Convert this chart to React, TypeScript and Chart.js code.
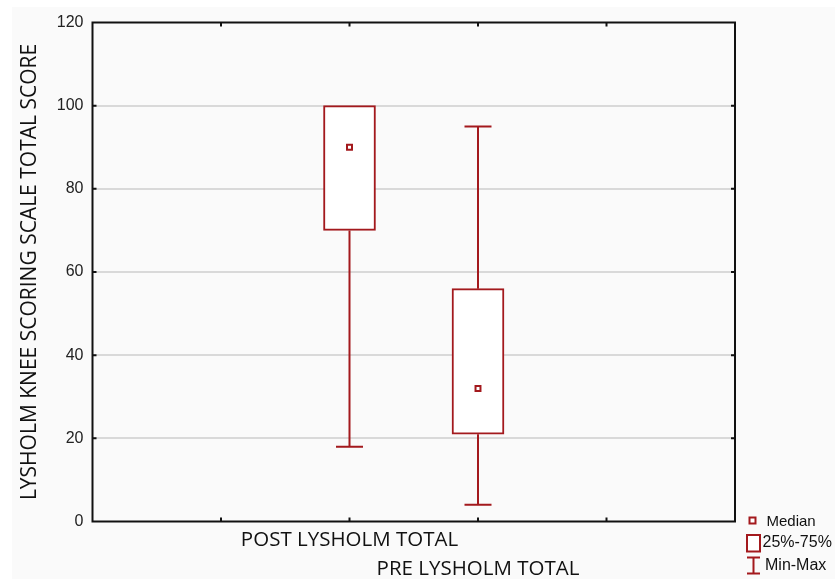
import React, { useEffect, useRef } from "react";
import { Chart, registerables } from "chart.js";

Chart.register(...registerables);

const categories = ["POST LYSHOLM TOTAL", "PRE LYSHOLM TOTAL"];
const minVals = [18, 4];
const q1Vals = [70, 21];
const medianVals = [90, 32];
const q3Vals = [100, 56];
const maxVals = [100, 95];
const yTicks = [0, 20, 40, 60, 80, 100, 120];
const legendLabels = ["Median", "25%-75%", "Min-Max"];

const RED = "#a3191d";
const OFFSET = 2; // category slots before the first box

export default function App() {
  const ref = useRef<HTMLCanvasElement>(null);
  useEffect(() => {
    const canvas = ref.current!;
    const n = categories.length;
    const total = n + OFFSET * 2;
    const labels: any[] = [];
    const boxData: any[] = [];
    const medData: any[] = [];
    for (let i = 0; i < total; i++) {
      const k = i - OFFSET;
      if (k >= 0 && k < n) {
        labels.push(k % 2 === 0 ? [categories[k], ""] : ["", categories[k]]);
        boxData.push([q1Vals[k], q3Vals[k]]);
        medData.push(medianVals[k]);
      } else {
        labels.push("");
        boxData.push(null);
        medData.push(null);
      }
    }

    const framePlugin = {
      id: "frame",
      beforeDatasetsDraw(chart: any) {
        const ctx = chart.ctx;
        const x = chart.scales.x;
        const y = chart.scales.y;
        ctx.save();
        ctx.strokeStyle = RED;
        ctx.lineWidth = 2;
        for (let k = 0; k < n; k++) {
          const px = x.getPixelForValue(k + OFFSET);
          const capW = 27;
          ctx.beginPath();
          ctx.moveTo(px, y.getPixelForValue(minVals[k]));
          ctx.lineTo(px, y.getPixelForValue(q1Vals[k]));
          ctx.moveTo(px, y.getPixelForValue(q3Vals[k]));
          ctx.lineTo(px, y.getPixelForValue(maxVals[k]));
          ctx.moveTo(px - capW / 2, y.getPixelForValue(minVals[k]));
          ctx.lineTo(px + capW / 2, y.getPixelForValue(minVals[k]));
          if (maxVals[k] > q3Vals[k]) {
            ctx.moveTo(px - capW / 2, y.getPixelForValue(maxVals[k]));
            ctx.lineTo(px + capW / 2, y.getPixelForValue(maxVals[k]));
          }
          ctx.stroke();
        }
        ctx.restore();
      },
      afterDraw(chart: any) {
        const ctx = chart.ctx;
        const a = chart.chartArea;
        const x = chart.scales.x;
        const y = chart.scales.y;
        ctx.save();
        ctx.strokeStyle = "#111";
        ctx.lineWidth = 2;
        ctx.strokeRect(a.left, a.top, a.right - a.left, a.bottom - a.top);
        ctx.beginPath();
        const tl = 4;
        for (let i = 1; i < total - 1; i++) {
          const px = x.getPixelForValue(i);
          ctx.moveTo(px, a.bottom);
          ctx.lineTo(px, a.bottom - tl);
          ctx.moveTo(px, a.top);
          ctx.lineTo(px, a.top + tl);
        }
        for (const v of yTicks) {
          if (v === 0 || v === 120) continue;
          const py = y.getPixelForValue(v);
          ctx.moveTo(a.left, py);
          ctx.lineTo(a.left + tl, py);
          ctx.moveTo(a.right, py);
          ctx.lineTo(a.right - tl, py);
        }
        ctx.stroke();

        // legend
        const lx = a.right + 17.5;
        ctx.strokeStyle = RED;
        ctx.fillStyle = "#fff";
        ctx.lineWidth = 2;
        ctx.fillRect(lx - 3, 510.5, 6, 6);
        ctx.strokeRect(lx - 3, 510.5, 6, 6);
        ctx.fillRect(lx - 5.5, 528, 13, 16.5);
        ctx.strokeRect(lx - 5.5, 528, 13, 16.5);
        ctx.beginPath();
        ctx.moveTo(lx - 5.5, 550.5);
        ctx.lineTo(lx + 7.5, 550.5);
        ctx.moveTo(lx + 1, 550.5);
        ctx.lineTo(lx + 1, 566.5);
        ctx.moveTo(lx - 5.5, 566.5);
        ctx.lineTo(lx + 7.5, 566.5);
        ctx.stroke();
        ctx.fillStyle = "#111";
        ctx.font = "15px 'Liberation Sans', Arial, sans-serif";
        ctx.textBaseline = "middle";
        ctx.textAlign = "left";
        ctx.fillText(legendLabels[0], lx + 14, 514.5);
        ctx.font = "16px 'Liberation Sans', Arial, sans-serif";
        ctx.fillText(legendLabels[1], lx + 10, 536);
        ctx.fillText(legendLabels[2], lx + 12.5, 558.5);
        ctx.restore();
      },
    };

    const chart = new Chart(canvas, {
      type: "bar",
      data: {
        labels,
        datasets: [
          {
            type: "bar",
            label: "25%-75%",
            data: boxData,
            backgroundColor: "#ffffff",
            borderColor: RED,
            borderWidth: 2,
            borderSkipped: false,
            barThickness: 52,
            order: 2,
          } as any,
          {
            type: "line",
            label: "Median",
            data: medData,
            showLine: false,
            pointStyle: "rect",
            pointRadius: 3.5,
            pointBorderWidth: 2,
            pointBackgroundColor: "#ffffff",
            pointBorderColor: RED,
            order: 1,
          } as any,
        ],
      },
      options: {
        animation: false,
        responsive: false,
        maintainAspectRatio: false,
        layout: { padding: { top: 15.5, right: 100, left: 0, bottom: 0 } },
        plugins: { legend: { display: false }, tooltip: { enabled: false } },
        scales: {
          x: {
            type: "category",
            offset: false,
            grid: { display: false },
            border: { display: false },
            ticks: {
              autoSkip: false,
              maxRotation: 0,
              minRotation: 0,
              padding: -3,
              color: "#111",
              font: { family: "'Open Sans', sans-serif", size: 20.5, lineHeight: 1.38 },
            },
            afterFit: (s: any) => {
              s.height = 57.5;
              s.paddingLeft = 0;
              s.paddingRight = 0;
            },
          },
          y: {
            min: 0,
            max: 120,
            grid: {
              color: (c: any) =>
                c.tick && (c.tick.value === 0 || c.tick.value === 120) ? "rgba(0,0,0,0)" : "#d9d9d9",
              lineWidth: 2,
              drawTicks: false,
            },
            border: { display: false },
            ticks: {
              stepSize: 20,
              padding: 9,
              color: "#222",
              font: { family: "'Liberation Sans', Arial, sans-serif", size: 16 },
            },
            title: {
              display: true,
              text: "LYSHOLM KNEE SCORING SCALE TOTAL SCORE",
              color: "#111",
              font: { family: "'Open Sans', sans-serif", size: 21 },
              padding: { top: 5, bottom: 0 },
            },
            afterFit: (s: any) => {
              s.width = 80.5;
              s.paddingTop = 0;
              s.paddingBottom = 0;
            },
          },
        },
      },
      plugins: [framePlugin],
    });
    return () => chart.destroy();
  }, []);

  return (
    <div
      style={{
        position: "fixed",
        left: 12,
        top: 7,
        width: 823,
        height: 572,
        background: "#fafafa",
      }}
    >
      <canvas ref={ref} width={823} height={572} style={{ width: 823, height: 572, display: "block" }} />
    </div>
  );
}
